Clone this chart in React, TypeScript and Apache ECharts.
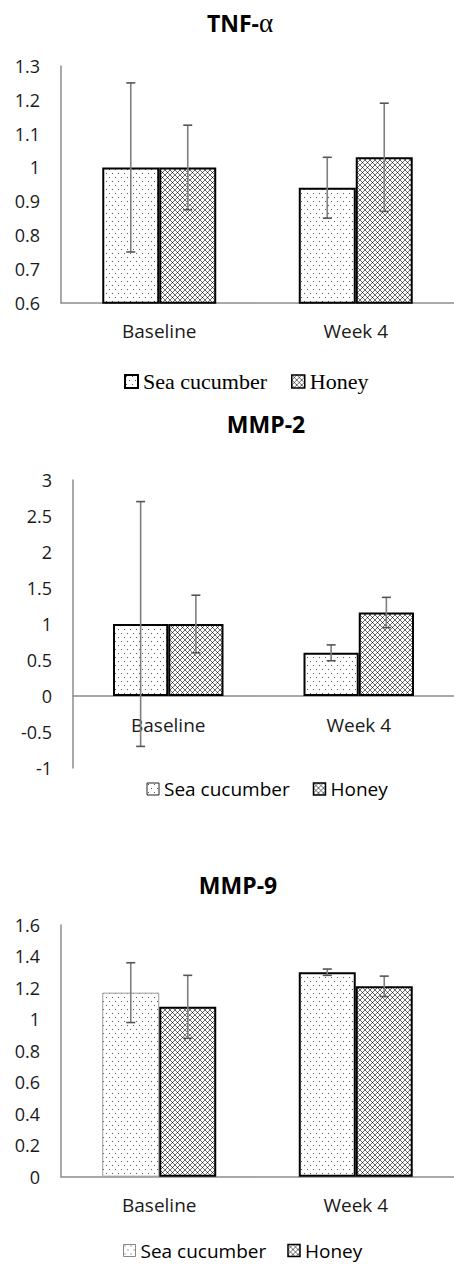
import React, { useEffect, useRef } from 'react';
import * as echarts from 'echarts';

const categories = ['Baseline', 'Week 4'];
const seriesNames = ['Sea cucumber', 'Honey'];

const chartTitles = ['TNF-', 'MMP-2', 'MMP-9'];

const tnfSea = [1.0, 0.94];
const tnfSeaErr = [0.25, 0.09];
const tnfHoney = [1.0, 1.03];
const tnfHoneyErr = [0.125, 0.16];

const mmp2Sea = [1.0, 0.6];
const mmp2SeaErr = [1.7, 0.11];
const mmp2Honey = [1.0, 1.16];
const mmp2HoneyErr = [0.4, 0.21];

const mmp9Sea = [1.17, 1.3];
const mmp9SeaErr = [0.19, 0.02];
const mmp9Honey = [1.08, 1.21];
const mmp9HoneyErr = [0.2, 0.065];

const yMins = [0.6, -1, 0];
const yMaxs = [1.3, 3, 1.6];
const yIntervals = [0.1, 0.5, 0.2];

function makeDots(): HTMLCanvasElement {
  const c = document.createElement('canvas');
  c.width = 6;
  c.height = 8;
  const ctx = c.getContext('2d')!;
  ctx.fillStyle = '#ffffff';
  ctx.fillRect(0, 0, 6, 8);
  ctx.fillStyle = '#555555';
  ctx.fillRect(1, 1, 1, 1);
  ctx.fillRect(4, 5, 1, 1);
  return c;
}

function makeHatch(): HTMLCanvasElement {
  const n = 5;
  const c = document.createElement('canvas');
  c.width = n;
  c.height = n;
  const ctx = c.getContext('2d')!;
  ctx.fillStyle = '#ffffff';
  ctx.fillRect(0, 0, n, n);
  ctx.fillStyle = '#6e6e6e';
  for (let i = 0; i < n; i++) {
    ctx.fillRect(i, i, 1, 1);
    ctx.fillRect(n - 1 - i, i, 1, 1);
  }
  ctx.fillStyle = '#1a1a1a';
  ctx.fillRect(2, 2, 1, 1);
  return c;
}

export default function App() {
  const ref = useRef<HTMLDivElement>(null);

  useEffect(() => {
    if (!ref.current) return;
    const chart = echarts.init(ref.current, undefined, { renderer: 'svg' });

    const dotsCanvas = makeDots();
    const hatchCanvas = makeHatch();
    const dotFill: any = { image: dotsCanvas, repeat: 'repeat', imageWidth: 6, imageHeight: 8 };
    const hatchFill: any = { image: hatchCanvas, repeat: 'repeat', imageWidth: 5, imageHeight: 5 };

    const seaData = [tnfSea, mmp2Sea, mmp9Sea];
    const seaErr = [tnfSeaErr, mmp2SeaErr, mmp9SeaErr];
    const honeyData = [tnfHoney, mmp2Honey, mmp9Honey];
    const honeyErr = [tnfHoneyErr, mmp2HoneyErr, mmp9HoneyErr];

    const grids = [
      { left: 61, top: 66, width: 396, height: 236.7 },
      { left: 73, top: 480, width: 407, height: 288 },
      { left: 61, top: 925, width: 395, height: 251.7 },
    ];

    // offset of the category axis so that it sits on the value 0 line
    const xOffsets = grids.map((g, i) => {
      if (yMins[i] < 0 && yMaxs[i] > 0) {
        return -(g.height * (0 - yMins[i])) / (yMaxs[i] - yMins[i]);
      }
      return 0;
    });

    const gap = 0.42;
    const axisColor = '#8c8c8c';
    const textColor = '#1a1a1a';

    const xAxes = grids.map((_, i) => ({
      type: 'category',
      gridIndex: i,
      data: categories,
      position: 'bottom',
      offset: xOffsets[i],
      axisLine: { show: true, onZero: false, lineStyle: { color: axisColor, width: 1.5 } },
      axisTick: { show: false },
      axisLabel: {
        margin: 19,
        color: textColor,
        fontFamily: 'Open Sans',
        fontSize: 19,
      },
      splitLine: { show: false },
    }));

    const yAxes = grids.map((_, i) => ({
      type: 'value',
      gridIndex: i,
      min: yMins[i],
      max: yMaxs[i],
      interval: yIntervals[i],
      axisLine: { show: true, lineStyle: { color: axisColor, width: 1.5 } },
      axisTick: { show: false },
      splitLine: { show: false },
      axisLabel: {
        margin: 21,
        color: textColor,
        fontFamily: 'Open Sans',
        fontSize: 18,
      },
    }));

    const series: any[] = [];
    grids.forEach((_, i) => {
      series.push({
        type: 'bar',
        name: seriesNames[0],
        xAxisIndex: i,
        yAxisIndex: i,
        barGap: '0%',
        barCategoryGap: gap * 100 + '%',
        data: seaData[i].map((v, j) => {
          if (i === 2 && j === 0) {
            return { value: v, itemStyle: { borderColor: '#9a9a9a', borderWidth: 1 } };
          }
          return v;
        }),
        itemStyle: { color: dotFill, borderColor: '#000', borderWidth: 2 },
        z: 2,
      });
      series.push({
        type: 'bar',
        name: seriesNames[1],
        xAxisIndex: i,
        yAxisIndex: i,
        barGap: '0%',
        barCategoryGap: gap * 100 + '%',
        data: honeyData[i],
        itemStyle: { color: hatchFill, borderColor: '#000', borderWidth: 2 },
        z: 2,
      });
      const errData: number[][] = [];
      seaData[i].forEach((v, j) => errData.push([j, v, seaErr[i][j], 0]));
      honeyData[i].forEach((v, j) => errData.push([j, v, honeyErr[i][j], 1]));
      series.push({
        type: 'custom',
        name: 'errors' + i,
        xAxisIndex: i,
        yAxisIndex: i,
        z: 5,
        silent: true,
        clip: false,
        encode: { x: 0, y: 1 },
        data: errData,
        renderItem: (params: any, api: any) => {
          const cat = api.value(0);
          const mean = api.value(1);
          const err = api.value(2);
          const s = api.value(3);
          const band = api.size([1, 0])[0];
          const bw = (band * (1 - gap)) / 2;
          const c = api.coord([cat, mean]);
          const x = c[0] + (s === 0 ? -bw / 2 : bw / 2);
          const yt = api.coord([cat, mean + err])[1];
          const yb = api.coord([cat, mean - err])[1];
          const cap = 4.5;
          const st = { stroke: '#7f7f7f', lineWidth: 1.6 };
          const st2 = { stroke: '#555555', lineWidth: 1.6 };
          return {
            type: 'group',
            children: [
              { type: 'line', shape: { x1: x, y1: yt, x2: x, y2: yb }, style: st },
              { type: 'line', shape: { x1: x - cap, y1: yt, x2: x + cap, y2: yt }, style: st2 },
              { type: 'line', shape: { x1: x - cap, y1: yb, x2: x + cap, y2: yb }, style: st2 },
            ],
          };
        },
      });
    });

    const legends = [
      {
        left: 124,
        top: 370.5,
        itemWidth: 13,
        itemHeight: 13,
        itemGap: 24,
        textStyle: { fontFamily: 'Liberation Serif', fontSize: 22, color: '#000' },
        data: [
          { name: seriesNames[0], itemStyle: { borderColor: '#000', borderWidth: 2 } },
          { name: seriesNames[1], itemStyle: { borderColor: '#000', borderWidth: 1.5 } },
        ],
      },
      {
        left: 146.5,
        top: 779.5,
        itemWidth: 12,
        itemHeight: 12,
        itemGap: 23,
        textStyle: { fontFamily: 'Open Sans', fontSize: 19, color: '#000' },
        data: [
          { name: seriesNames[0], itemStyle: { borderColor: '#222', borderWidth: 1 } },
          { name: seriesNames[1], itemStyle: { borderColor: '#000', borderWidth: 1.5 } },
        ],
      },
      {
        left: 123,
        top: 1240.5,
        itemWidth: 12,
        itemHeight: 12,
        itemGap: 21,
        textStyle: { fontFamily: 'Open Sans', fontSize: 19, lineHeight: 20, color: '#000' },
        data: [
          { name: seriesNames[0], itemStyle: { borderColor: '#888', borderWidth: 1 } },
          { name: seriesNames[1], itemStyle: { borderColor: '#000', borderWidth: 1.5 } },
        ],
      },
    ].map((l) => ({
      ...l,
      orient: 'horizontal',
      padding: 0,
      icon: 'rect',
      selectedMode: false,
    }));

    const titlePos = [
      [240, 23],
      [266, 424],
      [238, 885],
    ];

    const graphic = chartTitles.map((t, i) => ({
      type: 'text',
      x: titlePos[i][0],
      y: titlePos[i][1],
      style: {
        text: i === 0 ? '{a|' + t + '}{b|α}' : t,
        fontFamily: 'Open Sans',
        fontWeight: 'bold',
        fontSize: 23,
        fill: '#000',
        align: 'center',
        verticalAlign: 'middle',
        rich: {
          a: { fontFamily: 'Open Sans', fontWeight: 'bold', fontSize: 23, fill: '#000' },
          b: { fontFamily: 'Liberation Serif', fontWeight: 'normal', fontSize: 27, fill: '#000' },
        },
      },
    }));

    chart.setOption({
      animation: false,
      backgroundColor: '#ffffff',
      grid: grids.map((g) => ({ ...g, containLabel: false })),
      xAxis: xAxes,
      yAxis: yAxes,
      legend: legends,
      series,
      graphic,
    } as any);

    return () => {
      chart.dispose();
    };
  }, []);

  return (
    <div
      ref={ref}
      style={{ position: 'absolute', left: 0, top: 0, width: 454, height: 1265, background: '#fff' }}
    />
  );
}
